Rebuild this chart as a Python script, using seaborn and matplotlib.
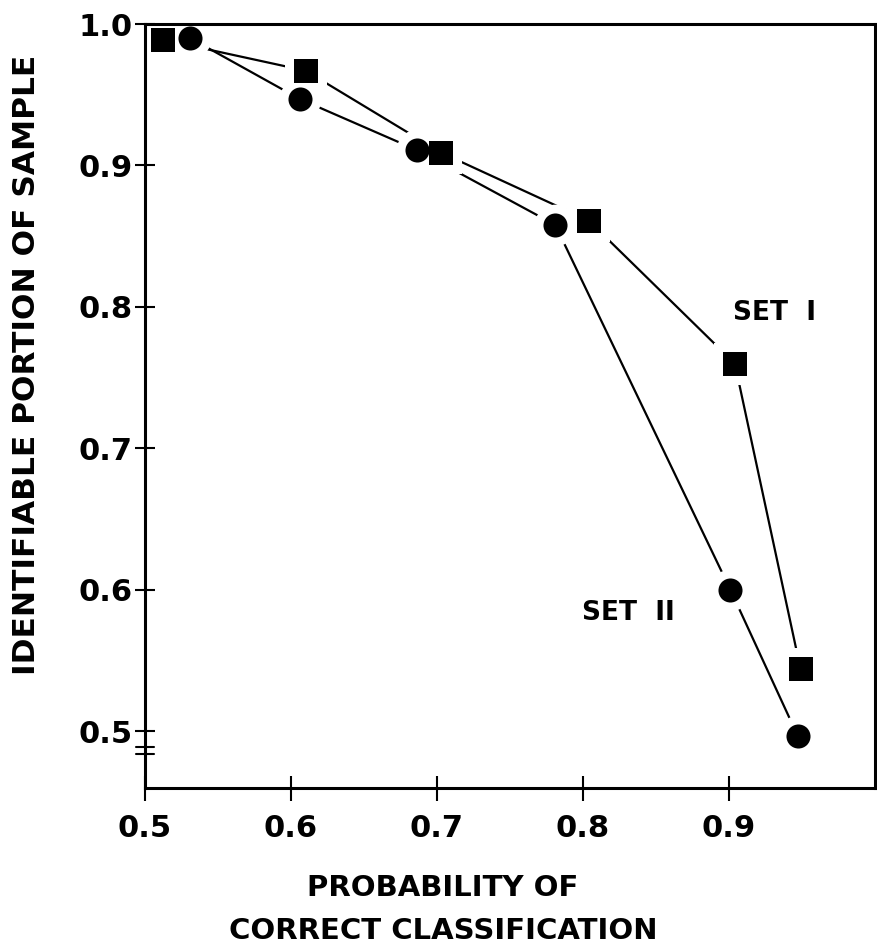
import matplotlib
matplotlib.use("Agg")
import matplotlib.pyplot as plt
import matplotlib.transforms as mtransforms
import seaborn as sns

# probability of correct classification vs identifiable portion of sample
prob_set1 = [0.512, 0.610, 0.703, 0.804, 0.904, 0.949]
ident_set1 = [0.989, 0.967, 0.909, 0.861, 0.760, 0.544]
prob_set2 = [0.531, 0.606, 0.686, 0.781, 0.901, 0.947]
ident_set2 = [0.990, 0.947, 0.911, 0.858, 0.600, 0.497]

x_ticks = [0.5, 0.6, 0.7, 0.8, 0.9]
y_ticks = [0.5, 0.6, 0.7, 0.8, 0.9, 1.0]
tick_labels_x = ["0.5", "0.6", "0.7", "0.8", "0.9"]
tick_labels_y = ["0.5", "0.6", "0.7", "0.8", "0.9", "1.0"]


def main():
    sns.set_style("white")
    plt.rcParams["font.family"] = ["DejaVu Sans"]
    plt.rcParams["font.weight"] = "bold"
    plt.rcParams["text.color"] = "black"
    plt.rcParams["axes.labelcolor"] = "black"
    plt.rcParams["xtick.color"] = "black"
    plt.rcParams["ytick.color"] = "black"

    fig = plt.figure(figsize=(8.77, 9.49), dpi=100)
    ax = fig.add_axes([145 / 877, 1 - 788 / 949, 730 / 877, 764 / 949])

    # connecting lines
    for xs, ys in [(prob_set1, ident_set1), (prob_set2, ident_set2)]:
        sns.lineplot(x=xs, y=ys, sort=False, estimator=None, color="black",
                     linewidth=1.6, ax=ax, zorder=2)

    # white halo so lines stop short of markers
    for xs, ys, m in [(prob_set1, ident_set1, "s"), (prob_set2, ident_set2, "o")]:
        sns.scatterplot(x=xs, y=ys, marker=m, s=900, color="white",
                        linewidth=0, ax=ax, zorder=2.2)
    for xs, ys, m in [(prob_set1, ident_set1, "s"), (prob_set2, ident_set2, "o")]:
        sns.scatterplot(x=xs, y=ys, marker=m, s=300, color="black",
                        linewidth=0, ax=ax, zorder=3)

    ax.set_xlim(0.5, 1.0)
    ax.set_ylim(0.46, 1.0)
    ax.set_xticks(x_ticks)
    ax.set_xticklabels(tick_labels_x, fontsize=22, fontweight="bold")
    ax.set_yticks(y_ticks)
    ax.set_yticklabels(tick_labels_y, fontsize=22, fontweight="bold")
    ax.tick_params(axis="x", bottom=True, direction="inout", length=18,
                   width=1.5, color="black", pad=10)
    ax.tick_params(axis="y", left=True, direction="inout", length=14,
                   width=1.5, color="black", pad=2)

    for side in ["left", "right", "top", "bottom"]:
        ax.spines[side].set_color("black")
        ax.spines[side].set_linewidth(2.2)

    # axis break marks below 0.5
    trans = mtransforms.blended_transform_factory(ax.transAxes, ax.transData)
    for yb in [0.489, 0.484]:
        ax.plot([-0.012, 0.012], [yb, yb], color="black", linewidth=1.5,
                transform=trans, clip_on=False, zorder=4)

    ax.set_ylabel("IDENTIFIABLE PORTION OF SAMPLE", fontsize=22.5,
                  fontweight="bold")
    ax.yaxis.set_label_coords(-0.142, 0.554)
    ax.set_xlabel("PROBABILITY OF\nCORRECT CLASSIFICATION", fontsize=21,
                  fontweight="bold", linespacing=1.7)
    ax.xaxis.set_label_coords(0.408, -0.112)
    ax.xaxis.label.set_va("top")

    ax.text(0.931, 0.796, "SET  I", fontsize=19, fontweight="bold",
            ha="center", va="center")
    ax.text(0.831, 0.584, "SET  II", fontsize=19, fontweight="bold",
            ha="center", va="center")

    fig.savefig("out.png", dpi=100)


if __name__ == "__main__":
    main()
